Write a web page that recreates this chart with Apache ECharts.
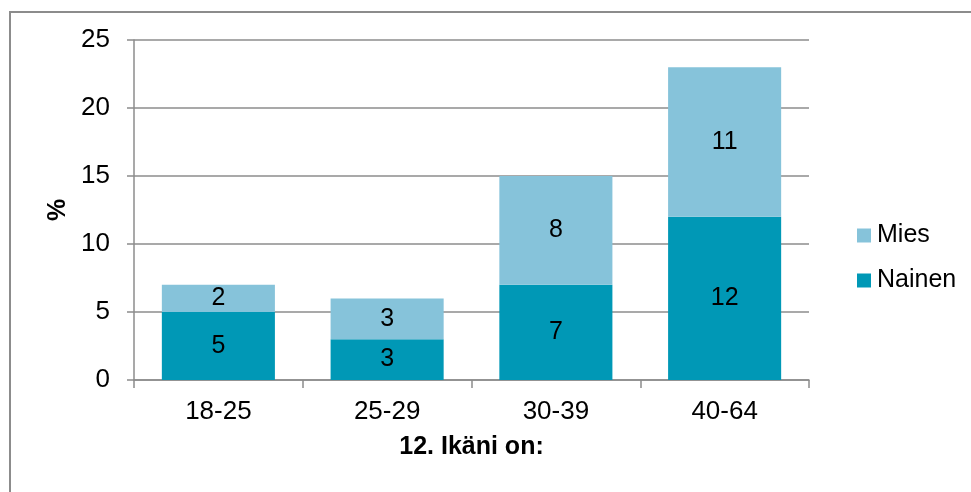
<!DOCTYPE html>
<html>
<head>
<meta charset="utf-8">
<script src="https://cdn.jsdelivr.net/npm/echarts@6/dist/echarts.min.js"></script>
<style>
  html, body { margin: 0; padding: 0; background: #fff; }
  #chart { width: 971px; height: 492px; }
</style>
</head>
<body>
<div id="chart"></div>
<script>
// Age groups and share of respondents (%) by gender
const categories = ['18-25', '25-29', '30-39', '40-64'];
const nainen = [5, 3, 7, 12];
const mies = [2, 3, 8, 11];
const yTicks = [0, 5, 10, 15, 20, 25];

const FONT = '"Liberation Sans", Arial, sans-serif';
const GRID = '#8c8c8c';
const FS = 25;

const chart = echarts.init(document.getElementById('chart'));

const labelStyle = {
  show: true,
  position: 'inside',
  color: '#000',
  fontFamily: FONT,
  fontSize: FS
};

chart.setOption({
  animation: false,
  backgroundColor: '#fff',
  textStyle: { fontFamily: FONT },
  graphic: [{
    type: 'rect',
    shape: { x: 10, y: 12, width: 1000, height: 520 },
    style: { fill: 'none', stroke: GRID, lineWidth: 2 },
    silent: true
  }],
  grid: { left: 134, right: 162, top: 40, bottom: 112, containLabel: false },
  legend: {
    orient: 'vertical',
    left: 852,
    top: 218,
    itemWidth: 14,
    itemHeight: 14,
    itemGap: 20,
    icon: 'rect',
    data: ['Mies', 'Nainen'],
    textStyle: { fontFamily: FONT, fontSize: FS, color: '#000', lineHeight: 25, padding: [0, 0, 0, 1] }
  },
  xAxis: {
    type: 'category',
    data: categories,
    name: '12. Ikäni on:',
    nameLocation: 'middle',
    nameGap: 55,
    nameTextStyle: { fontFamily: FONT, fontSize: 25, fontWeight: 'bold', color: '#000' },
    axisLine: { lineStyle: { color: GRID, width: 1.5 } },
    axisTick: { show: true, length: 8, lineStyle: { color: GRID, width: 1.5 } },
    axisLabel: { color: '#000', fontFamily: FONT, fontSize: 26, margin: 19 }
  },
  yAxis: {
    type: 'value',
    min: yTicks[0],
    max: yTicks[yTicks.length - 1],
    interval: yTicks[1] - yTicks[0],
    name: '%',
    nameLocation: 'middle',
    nameRotate: 90,
    nameGap: 62,
    nameTextStyle: { fontFamily: FONT, fontSize: 25, fontWeight: 'bold', color: '#000' },
    axisLine: { show: true, lineStyle: { color: GRID, width: 1.5 } },
    axisTick: { show: true, length: 7, lineStyle: { color: GRID, width: 1.5 } },
    axisLabel: { color: '#000', fontFamily: FONT, fontSize: 26, margin: 24 },
    splitLine: { show: true, lineStyle: { color: GRID, width: 1.5 } }
  },
  series: [
    {
      name: 'Nainen',
      type: 'bar',
      stack: 'total',
      data: nainen,
      barCategoryGap: '33%',
      itemStyle: { color: '#0098b6' },
      label: labelStyle
    },
    {
      name: 'Mies',
      type: 'bar',
      stack: 'total',
      data: mies,
      barCategoryGap: '33%',
      itemStyle: { color: '#86c3da' },
      label: labelStyle
    }
  ]
});
</script>
</body>
</html>
